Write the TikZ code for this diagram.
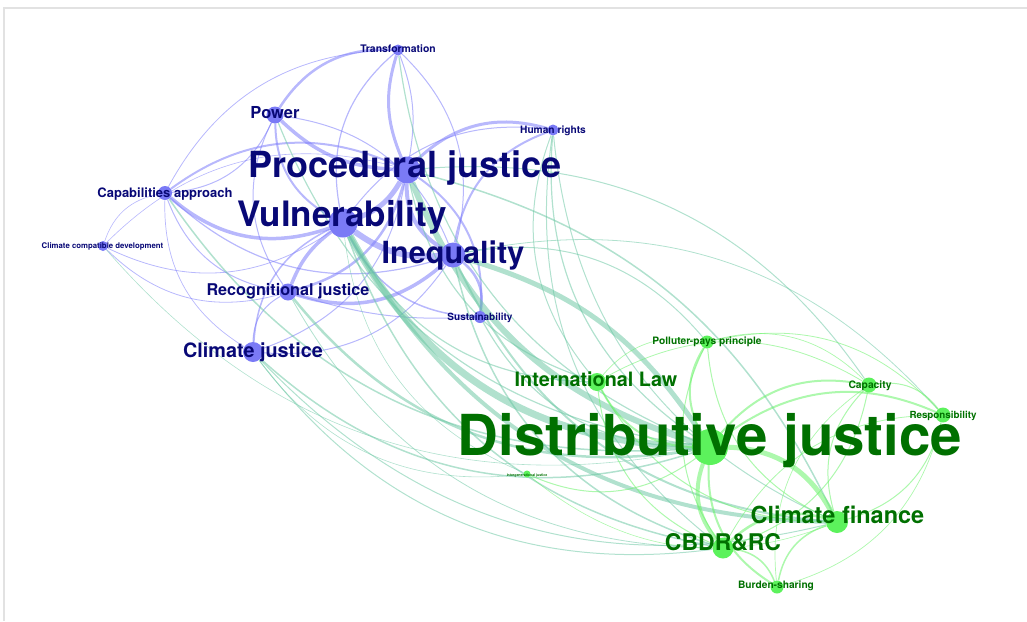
\documentclass[tikz,border=0pt]{standalone}
\usepackage{fontspec}
\setmainfont{TeX Gyre Heros}
\usetikzlibrary{positioning, backgrounds}

\definecolor{vblue}{RGB}{122,122,246}
\definecolor{vnavy}{RGB}{8,8,118}
\definecolor{vgreen}{RGB}{92,242,92}
\definecolor{vdark}{RGB}{0,112,0}
\definecolor{eblue}{RGB}{125,125,250}
\definecolor{eteal}{RGB}{105,198,162}
\definecolor{egreen}{RGB}{105,242,105}
\definecolor{framegray}{RGB}{226,226,226}

\newcommand{\fsz}[1]{\fontsize{#1}{#1}\selectfont}

\tikzset{
  vnode/.style={circle, fill=vblue, inner sep=0pt, minimum size=#1},
  gnode/.style={circle, fill=vgreen, inner sep=0pt, minimum size=#1},
  vtext/.style={text=vnavy, anchor=base, inner sep=0pt, font=\bfseries\fsz{#1}},
  gtext/.style={text=vdark, anchor=base, inner sep=0pt, font=\bfseries\fsz{#1}},
  vv/.style={draw=eblue, draw opacity=.55},
  vg/.style={draw=eteal, draw opacity=.52},
  gg/.style={draw=egreen, draw opacity=.55},
  wt/.style={line width=#1pt},
}

\begin{document}
\begin{tikzpicture}[x=1pt, y=-1pt, bend angle=30]
  \useasboundingbox (0,0) rectangle (1027,621);
  \draw[framegray, line width=1.5pt] (4,621) -- (4,8) -- (1027,8);

  % Nodes
  \node[vnode=11] (tr) at (398,50) {};
  \node[vnode=17] (pow) at (275,115) {};
  \node[vnode=11] (hr) at (553,130) {};
  \node[vnode=27] (pj) at (407,170) {};
  \node[vnode=14] (cap) at (165,193) {};
  \node[vnode=29] (v) at (343,223) {};
  \node[vnode=10] (ccd) at (103,246) {};
  \node[vnode=25] (ineq) at (453,255) {};
  \node[vnode=17] (rec) at (288,292) {};
  \node[vnode=12] (sus) at (480,317) {};
  \node[vnode=20] (cj) at (253,352) {};

  \node[gnode=13] (ppp) at (707,342) {};
  \node[gnode=18] (il) at (597,382) {};
  \node[gnode=15] (capa) at (869,385) {};
  \node[gnode=15] (resp) at (943,415) {};
  \node[gnode=36] (d) at (710,447) {};
  \node[gnode=7] (ig) at (527,474) {};
  \node[gnode=22] (cf) at (837,522) {};
  \node[gnode=21] (cb) at (723,548) {};
  \node[gnode=13] (bs) at (777,587) {};

  % Labels
  \node[vtext=10.4] (trlbl) at (398,52) {Transformation};
  \node[vtext=16.5] (powlbl) at (275,118) {Power};
  \node[vtext=10.2] (hrlbl) at (553,133) {Human rights};
  \node[vtext=36] (pjlbl) at (405,177) {Procedural justice};
  \node[vtext=13] (caplbl) at (165,197) {Capabilities approach};
  \node[vtext=35] (vlbl) at (342,226) {Vulnerability};
  \node[vtext=7.8] (ccdlbl) at (102.5,248.5) {Climate compatible development};
  \node[vtext=30.5] (ineqlbl) at (453,263) {Inequality};
  \node[vtext=16.2] (reclbl) at (288,295) {Recognitional justice};
  \node[vtext=10] (suslbl) at (480,320) {Sustainability};
  \node[vtext=19.8] (cjlbl) at (253,357) {Climate justice};

  \node[gtext=10.2] (ppplbl) at (707,344) {Polluter-pays principle};
  \node[gtext=19.8] (illbl) at (596,386) {International Law};
  \node[gtext=10.3] (capalbl) at (870,388) {Capacity};
  \node[gtext=9.8] (resplbl) at (943,418) {Responsibility};
  \node[gtext=56.5] (dlbl) at (710,455) {Distributive justice};
  \node[gtext=3.5] (iglbl) at (527,476) {Intergenerational justice};
  \node[gtext=23.5] (cflbl) at (837.5,523) {Climate finance};
  \node[gtext=23] (cblbl) at (723,550) {CBDR\&RC};
  \node[gtext=10.2] (bslbl) at (776,588) {Burden-sharing};

  \begin{scope}[on background layer]
    % Blue to blue
    \path[vv]
    (v) edge[wt=5, bend right=20] (pj)
    (pj) edge[wt=4, bend right] (ineq)
    (v) edge[wt=6, bend right=20] (ineq)
    (pow) edge[wt=3.5, bend right=20] (pj)
    (tr) edge[wt=3, bend right=20] (pj)
    (tr) edge[wt=1, bend left=15] (pj)
    (tr) edge[wt=2.5, bend right] (pow)
    (hr) edge[wt=3, bend right] (pj)
    (v) edge[wt=3.5, bend right=15] (rec)
    (rec) edge[wt=3.5, bend right] (ineq)
    (rec) edge[wt=2.5, bend right] (pj)
    (cap) edge[wt=3.5, bend right] (v)
    (pj) edge[wt=2, bend right] (cap)
    (v) edge[wt=1.5, bend right] (cj)
    (rec) edge[wt=1, bend right] (cj)
    (sus) edge[wt=2.5, bend right] (ineq)
    (sus) edge[wt=2, bend right] (pj)
    (v) edge[wt=1.5, bend right] (sus)
    (pow) edge[wt=2, bend right] (v)
    (pow) edge[wt=1, bend right] (rec)
    (cap) edge[wt=1, bend right] (pow)
    (cap) edge[wt=1, bend right] (rec)
    (ccd) edge[wt=.8, bend right] (v)
    (ccd) edge[wt=.8, bend right] (rec)
    (ccd) edge[wt=.6, bend left] (cap)
    (pj) edge[wt=.6, bend right] (ccd)
    (tr) edge[wt=1.2, bend right] (v)
    (tr) edge[wt=1, bend left] (ineq)
    (hr) edge[wt=2, bend right] (ineq)
    (hr) edge[wt=1, bend right] (v)
    (cj) edge[wt=1, bend right] (ineq)
    (cj) edge[wt=1, bend right] (pj)
    (cap) edge[wt=1.2, bend right] (ineq)
    (pow) edge[wt=1, bend left] (ineq)
    (tr) edge[wt=.8, bend right] (cap)
    (rec) edge[wt=1, bend right=10] (sus)
    (cj) edge[wt=.7, bend left] (cap);

    % Blue to green
    \path[vg]
    (v) edge[wt=7, bend right] (d)
    (pj) edge[wt=6, bend right=25] (d)
    (d) edge[wt=5, bend right=20] (ineq)
    (v) edge[wt=4, bend right] (cf)
    (cf) edge[wt=1.5, bend right=25] (pj)
    (ineq) edge[wt=2, bend right] (cf)
    (rec) edge[wt=2.5, bend right] (d)
    (cj) edge[wt=1.5, bend right] (d)
    (cj) edge[wt=1, bend right] (cf)
    (cj) edge[wt=1, bend right] (cb)
    (cap) edge[wt=1.5, bend right] (d)
    (pow) edge[wt=1.2, bend right] (d)
    (tr) edge[wt=1.2, bend right] (d)
    (hr) edge[wt=1.2, bend right] (d)
    (hr) edge[wt=1, bend right] (cf)
    (hr) edge[wt=1, bend right] (cb)
    (hr) edge[wt=1, bend right] (il)
    (sus) edge[wt=1.2, bend right] (d)
    (ineq) edge[wt=1.5, bend right] (cb)
    (v) edge[wt=1.5, bend right] (cb)
    (v) edge[wt=1.2, bend right] (il)
    (pj) edge[wt=1.2, bend right] (il)
    (ppp) edge[wt=1, bend right] (ineq)
    (capa) edge[wt=1, bend right] (pj)
    (resp) edge[wt=.8, bend right] (ineq)
    (rec) edge[wt=.8, bend right] (cb)
    (cj) edge[wt=.6, bend right] (ig)
    (v) edge[wt=.6, bend right] (ig)
    (ccd) edge[wt=.6, bend right] (d);

    % Green to green
    \path[gg]
    (cf) edge[wt=5, bend right] (d)
    (d) edge[wt=4, bend right] (cb)
    (cb) edge[wt=2.5, bend left] (cf)
    (il) edge[wt=2, bend right] (d)
    (ppp) edge[wt=2, bend right] (d)
    (capa) edge[wt=2, bend right] (d)
    (resp) edge[wt=2, bend right] (d)
    (d) edge[wt=2, bend right] (bs)
    (cf) edge[wt=1.5, bend right] (bs)
    (bs) edge[wt=1.5, bend right] (cb)
    (ppp) edge[wt=1, bend right] (cf)
    (ppp) edge[wt=1, bend right] (cb)
    (capa) edge[wt=1, bend right] (cf)
    (resp) edge[wt=1, bend right] (capa)
    (resp) edge[wt=1, bend left] (cf)
    (il) edge[wt=1, bend right] (cf)
    (il) edge[wt=1, bend right] (cb)
    (resp) edge[wt=.8, bend right] (ppp)
    (capa) edge[wt=1, bend left] (cb)
    (capa) edge[wt=.8, bend right] (il)
    (ig) edge[wt=1, bend right] (d)
    (ig) edge[wt=.6, bend right] (cf)
    (resp) edge[wt=.8, bend right] (cb)
    (ppp) edge[wt=.7, bend left] (capa)
    (il) edge[wt=.7, bend left] (ppp)
    (capa) edge[wt=.7, bend right] (bs)
    (bs) edge[wt=.7, bend right] (resp);
  \end{scope}
\end{tikzpicture}
\end{document}
